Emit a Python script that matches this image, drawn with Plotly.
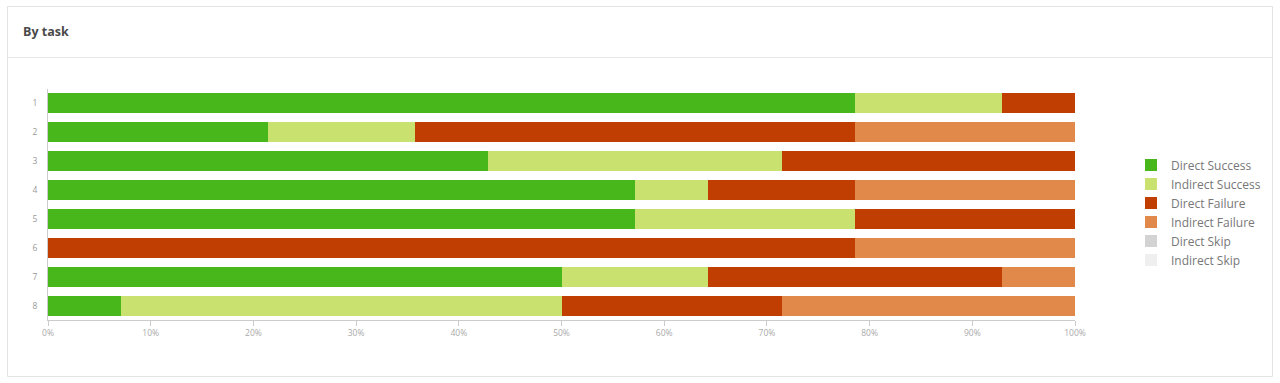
import plotly.graph_objects as go

tasks = ["1", "2", "3", "4", "5", "6", "7", "8"]
series_names = ["Direct Success", "Indirect Success", "Direct Failure",
                "Indirect Failure", "Direct Skip", "Indirect Skip"]
direct_success = [78.57, 21.43, 42.86, 57.14, 57.14, 0, 50.0, 7.14]
indirect_success = [14.29, 14.29, 28.57, 7.14, 21.43, 0, 14.29, 42.86]
direct_failure = [7.14, 42.86, 28.57, 14.29, 21.43, 78.57, 28.57, 21.43]
indirect_failure = [0, 21.43, 0, 21.43, 0, 21.43, 7.14, 28.57]
direct_skip = [0, 0, 0, 0, 0, 0, 0, 0]
indirect_skip = [0, 0, 0, 0, 0, 0, 0, 0]
x_ticks = [0, 10, 20, 30, 40, 50, 60, 70, 80, 90, 100]
x_tick_labels = [f"{v}%" for v in x_ticks]

colors = ["#47b71b", "#c9e26f", "#c03e02", "#e1884b", "#d3d3d3", "#efefef"]
values = [direct_success, indirect_success, direct_failure,
          indirect_failure, direct_skip, indirect_skip]

fig = go.Figure()
for name, vals, col in zip(series_names, values, colors):
    fig.add_trace(go.Bar(
        y=tasks, x=vals, name=name, orientation="h",
        marker=dict(color=col, line=dict(width=0)),
        hovertemplate="%{y}: %{x:.1f}%<extra>" + name + "</extra>",
    ))

W, H = 1280, 383
L, R, T, B = 48, 205, 89, 63
pw = W - L - R
ph = H - T - B


def px_x(p):
    return (p - L) / pw


def px_y(p):
    return (H - B - p) / ph


fig.update_layout(
    width=W, height=H,
    margin=dict(l=L, r=R, t=T, b=B, autoexpand=False),
    barmode="stack",
    bargap=0.31,
    plot_bgcolor="white",
    paper_bgcolor="white",
    font=dict(family="'Open Sans', Lato, sans-serif", color="#888"),
    showlegend=True,
    legend=dict(
        x=px_x(1131), xanchor="left",
        y=px_y(150.5), yanchor="top",
        font=dict(size=12, color="#777777"),
        traceorder="normal",
        itemclick=False,
        tracegroupgap=0,
        bgcolor="rgba(0,0,0,0)",
    ),
    xaxis=dict(
        range=[0, 100],
        tickvals=x_ticks, ticktext=x_tick_labels,
        tickfont=dict(size=8.5, color="#aaaaaa"),
        showgrid=False, zeroline=False,
        showline=True, linecolor="#cccccc", linewidth=1,
        ticks="outside", ticklen=5, tickcolor="#cccccc",
        fixedrange=True,
    ),
    yaxis=dict(
        autorange="reversed",
        tickfont=dict(size=8.5, color="#999999"),
        showgrid=False, zeroline=False,
        showline=True, linecolor="#cccccc", linewidth=1,
        ticks="", ticklabelstandoff=8,
        fixedrange=True,
    ),
    shapes=[
        dict(type="rect", xref="paper", yref="paper",
             x0=px_x(7.5), x1=px_x(1272.5), y0=px_y(376.5), y1=px_y(6.5),
             line=dict(color="#e3e3e3", width=1), layer="below"),
        dict(type="line", xref="paper", yref="paper",
             x0=px_x(7.5), x1=px_x(1272.5), y0=px_y(57.5), y1=px_y(57.5),
             line=dict(color="#e8e8e8", width=1)),
    ],
    annotations=[
        dict(text="<b>By task</b>", xref="paper", yref="paper",
             x=px_x(21), y=px_y(31), xanchor="left", yanchor="middle",
             showarrow=False, font=dict(size=12.5, color="#4a4a4a")),
    ],
)

fig.write_html("out.html", config={"displayModeBar": False},
               post_script="document.body.style.margin='0px';")
